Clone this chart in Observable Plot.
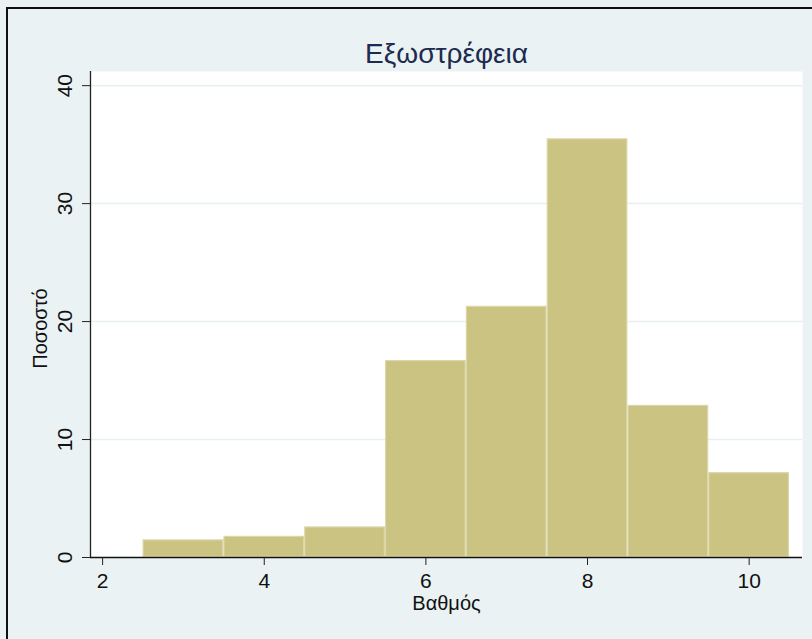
<!DOCTYPE html>
<html>
<head>
<meta charset="utf-8">
<script src="https://cdn.jsdelivr.net/npm/d3@7"></script>
<script src="https://cdn.jsdelivr.net/npm/@observablehq/plot@0.6"></script>
<style>
  html, body { margin: 0; padding: 0; background: #EAF2F3; overflow: hidden; }
  #wrap { position: relative; width: 812px; height: 639px; }
  #frame { position: absolute; left: 6px; top: 7px; width: 900px; height: 800px; border: 2px solid #111; pointer-events: none; }
</style>
</head>
<body>
<div id="wrap"><div id="chart"></div><div id="frame"></div></div>
<script>
const title = "Εξωστρέφεια";
const xLabel = "Βαθμός";
const yLabel = "Ποσοστό";
const binLeft  = [2.5, 3.5, 4.5, 5.5, 6.5, 7.5, 8.5, 9.5];
const binRight = [3.5, 4.5, 5.5, 6.5, 7.5, 8.5, 9.5, 10.5];
const percent  = [1.5, 1.8, 2.6, 16.7, 21.3, 35.5, 12.9, 7.2];
const xTicks = [2, 4, 6, 8, 10];
const yTicks = [0, 10, 20, 30, 40];

const bars = binLeft.map((l, i) => ({x1: l, x2: binRight[i], y: percent[i]}));
const font = "'Liberation Sans', Arial, sans-serif";

const chart = Plot.plot({
  width: 812,
  height: 639,
  marginLeft: 90,
  marginRight: 10,
  marginTop: 71,
  marginBottom: 82,
  style: {background: "#EAF2F3", fontFamily: font, color: "#111"},
  x: {domain: [1.85, 10.66], label: null},
  y: {domain: [0, 41.2], label: null},
  marks: [
    Plot.frame({fill: "white", stroke: null}),
    Plot.gridY(yTicks.slice(1), {stroke: "#E6EFF2", strokeOpacity: 1, strokeWidth: 1.5}),
    Plot.rectY(bars, {x1: "x1", x2: "x2", y: "y", fill: "#CBC382", stroke: "#DCD7A8", strokeWidth: 1.2, inset: 0.6}),
    Plot.ruleX([1.85], {stroke: "#222", strokeWidth: 1.3}),
    Plot.ruleY([0], {stroke: "#111", strokeWidth: 1.3}),
    Plot.axisX(xTicks, {tickSize: 8, tickPadding: 8, fontSize: 21, label: null, stroke: "#222"}),
    Plot.axisY(yTicks, {tickSize: 8, tickPadding: 11, fontSize: 21, tickRotate: -90, label: null, stroke: "#222"}),
    Plot.text([xLabel], {frameAnchor: "bottom", dy: 52, fontSize: 20, fill: "#111"}),
    Plot.text([yLabel], {frameAnchor: "left", dx: -50, dy: 14, rotate: -90, textAnchor: "middle", fontSize: 20, fill: "#111"}),
    Plot.text([title], {frameAnchor: "top", dy: -28, fontSize: 28, fill: "#1C2B4F"})
  ]
});
document.getElementById("chart").appendChild(chart);
</script>
</body>
</html>
